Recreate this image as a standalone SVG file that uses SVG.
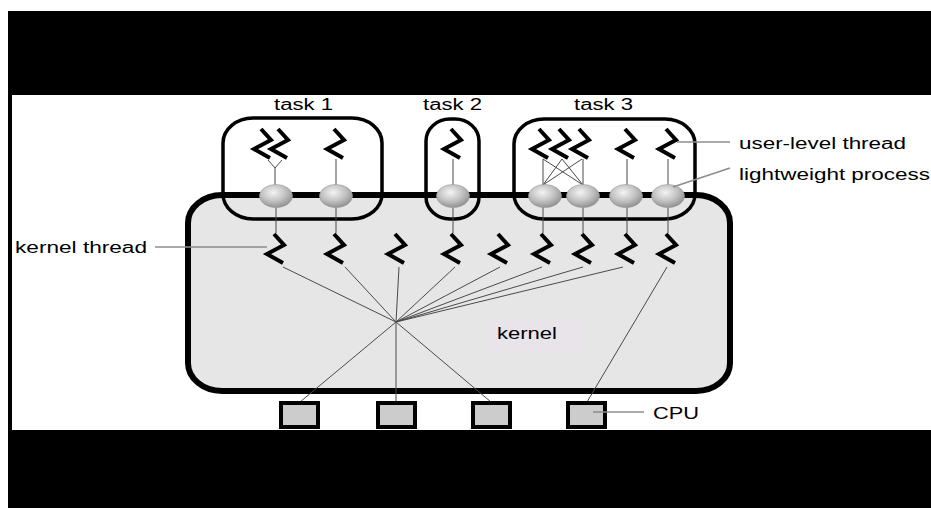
<svg xmlns="http://www.w3.org/2000/svg" xmlns:xlink="http://www.w3.org/1999/xlink" width="931" height="508" viewBox="0 0 931 508">
  <style>
    .lbl { font-family: "Liberation Sans", Arial, sans-serif; font-size: 16px; fill: #000; }
    .box { fill: none; stroke: #000; stroke-width: 3.5; }
    .thr { fill: none; stroke: #000; stroke-width: 4; stroke-linejoin: miter; stroke-linecap: butt; }
    .wire { fill: none; stroke: #4a4a4a; stroke-width: 1; }
    .lead { fill: none; stroke: #8c8c8c; stroke-width: 1.5; }
    .lwp { fill: url(#lwpShade); stroke: #9a9a9a; stroke-width: 0.6; }
    .cpu { fill: #cccccc; stroke: #000; stroke-width: 4; }
  </style>
  <defs>
    <radialGradient id="lwpShade" cx="0.42" cy="0.35" r="0.7">
      <stop offset="0" stop-color="#f4f4f4"/>
      <stop offset="0.55" stop-color="#c0c0c0"/>
      <stop offset="1" stop-color="#8a8a8a"/>
    </radialGradient>
    <!-- zig-zag thread glyph, origin at its top point -->
    <path id="zz" class="thr" d="M-2,0 L8,11 L-9,20 L7,29"/>
  </defs>

  <!-- page and black frame bands -->
  <rect x="0" y="0" width="931" height="508" fill="#fff"/>
  <rect x="8" y="11" width="923" height="84" fill="#000"/>
  <rect x="8" y="95" width="4" height="335" fill="#000"/>
  <rect x="8" y="430" width="923" height="78" fill="#000"/>

  <!-- kernel -->
  <g id="kernel">
    <rect x="188" y="195" width="542" height="196" rx="34" ry="28" fill="#e6e6e6" stroke="#000" stroke-width="6"/>
    <rect x="492" y="321" width="93" height="31" fill="#e9e4ea"/>
    <text class="lbl" x="497" y="339" textLength="60" lengthAdjust="spacingAndGlyphs">kernel</text>
  </g>

  <!-- tasks -->
  <g id="task1">
    <rect class="box" x="223" y="118" width="159" height="101" rx="30" ry="25"/>
    <text class="lbl" x="274" y="110" textLength="59" lengthAdjust="spacingAndGlyphs">task 1</text>
    <use xlink:href="#zz" x="263" y="129"/>
    <use xlink:href="#zz" x="280" y="129"/>
    <use xlink:href="#zz" x="336" y="129"/>
  </g>
  <g id="task2">
    <rect class="box" x="426" y="119" width="53" height="100" rx="24" ry="22"/>
    <text class="lbl" x="423" y="110" textLength="59" lengthAdjust="spacingAndGlyphs">task 2</text>
    <use xlink:href="#zz" x="453" y="129"/>
  </g>
  <g id="task3">
    <rect class="box" x="514" y="119" width="181" height="100" rx="30" ry="25"/>
    <text class="lbl" x="574" y="110" textLength="59" lengthAdjust="spacingAndGlyphs">task 3</text>
    <use xlink:href="#zz" x="541" y="129"/>
    <use xlink:href="#zz" x="561" y="129"/>
    <use xlink:href="#zz" x="581" y="129"/>
    <use xlink:href="#zz" x="627" y="129"/>
    <use xlink:href="#zz" x="668" y="129"/>
  </g>

  <!-- connectors -->
  <g id="connectors">
    <!-- user threads to lightweight processes -->
    <path class="wire" d="M268,160 L275,168 L282,160 M275,168 V185"/>
    <path class="wire" d="M336,159 V185"/>
    <path class="wire" d="M453,159 V185"/>
    <path class="wire" d="M543,159 V185 M583,159 V185 M543,159 L583,185 M562,159 L543,185 M562,159 L583,185 M582,159 L543,185"/>
    <path class="wire" d="M627,159 V185 M668,159 V185"/>
    <!-- lightweight processes to kernel threads -->
    <path class="wire" d="M276,207 V233 M336,207 V233 M453,207 V233 M543,207 V233 M583,207 V233 M627,207 V233 M668,207 V233"/>
    <!-- kernel threads to CPUs -->
    <path class="wire" d="M283,267 L396,322 M345,267 L396,322 M399,267 L396,322 M455,267 L396,322 M500,267 L396,322 M542,267 L396,322 M583,267 L396,322 M623,267 L396,322"/>
    <path class="wire" d="M396,322 L300,402 M396,322 V402 M396,322 L491,402"/>
    <path class="wire" d="M667,267 L587,402"/>
  </g>

  <!-- lightweight processes -->
  <g id="lwps">
    <ellipse class="lwp" cx="276" cy="196" rx="16.5" ry="11.5"/>
    <ellipse class="lwp" cx="336" cy="196" rx="16.5" ry="11.5"/>
    <ellipse class="lwp" cx="453" cy="196" rx="16.5" ry="11.5"/>
    <ellipse class="lwp" cx="545" cy="196" rx="16.5" ry="11.5"/>
    <ellipse class="lwp" cx="583" cy="196" rx="16.5" ry="11.5"/>
    <ellipse class="lwp" cx="626" cy="196" rx="16.5" ry="11.5"/>
    <ellipse class="lwp" cx="668" cy="196" rx="16.5" ry="11.5"/>
  </g>

  <!-- kernel threads -->
  <g id="kernel-threads">
    <use xlink:href="#zz" x="276" y="234"/>
    <use xlink:href="#zz" x="336" y="234"/>
    <use xlink:href="#zz" x="397" y="234"/>
    <use xlink:href="#zz" x="453" y="234"/>
    <use xlink:href="#zz" x="500" y="234"/>
    <use xlink:href="#zz" x="543" y="234"/>
    <use xlink:href="#zz" x="584" y="234"/>
    <use xlink:href="#zz" x="627" y="234"/>
    <use xlink:href="#zz" x="668" y="234"/>
  </g>

  <!-- CPUs -->
  <g id="cpu1"><rect class="cpu" x="281" y="403" width="37" height="24"/></g>
  <g id="cpu2"><rect class="cpu" x="378" y="403" width="37" height="24"/></g>
  <g id="cpu3"><rect class="cpu" x="473" y="403" width="37" height="24"/></g>
  <g id="cpu4"><rect class="cpu" x="568" y="403" width="37" height="24"/></g>

  <!-- callout labels -->
  <g id="label-user-thread">
    <path class="lead" d="M677,142 H730"/>
    <text class="lbl" x="739" y="149" textLength="167" lengthAdjust="spacingAndGlyphs">user-level thread</text>
  </g>
  <g id="label-lwp">
    <path class="lead" d="M673,187 L730,168"/>
    <text class="lbl" x="739" y="180" textLength="191" lengthAdjust="spacingAndGlyphs">lightweight process</text>
  </g>
  <g id="label-kernel-thread">
    <path class="lead" d="M155,247 H267"/>
    <text class="lbl" x="15" y="253" textLength="132" lengthAdjust="spacingAndGlyphs">kernel thread</text>
  </g>
  <g id="label-cpu">
    <path class="lead" d="M593,412 H644" stroke="#666"/>
    <text class="lbl" x="653" y="419" textLength="46" lengthAdjust="spacingAndGlyphs">CPU</text>
  </g>
</svg>
